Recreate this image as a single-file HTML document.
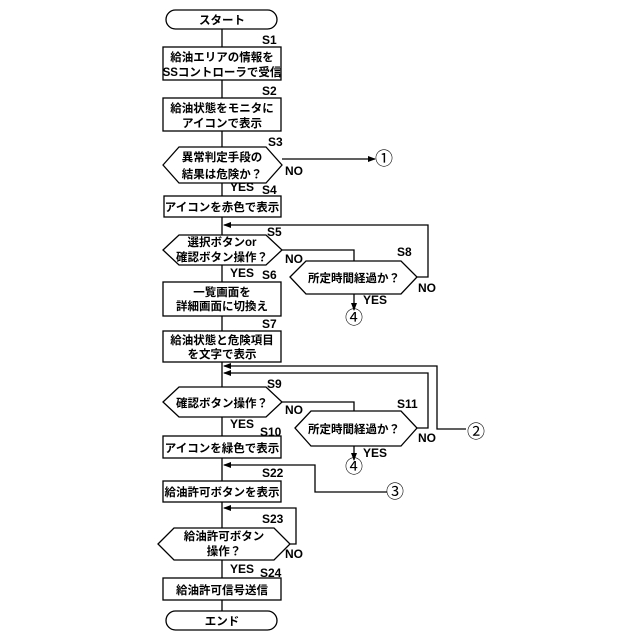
<!DOCTYPE html>
<html><head><meta charset="utf-8"><style>
html,body{margin:0;padding:0;background:#fff;width:640px;height:640px;overflow:hidden}
svg text{font-family:"Liberation Sans","Noto Sans CJK JP",sans-serif;font-weight:bold;fill:#000}
.t{font-size:11.5px;text-anchor:middle}
.l{font-size:12px}
.c{font-size:18px;text-anchor:middle;font-weight:normal}
</style></head><body>
<svg width="640" height="640" viewBox="0 0 640 640" xmlns="http://www.w3.org/2000/svg">
<defs><marker id="a" markerWidth="8" markerHeight="6" refX="7" refY="3" orient="auto" markerUnits="userSpaceOnUse"><path d="M0,0 L8,3 L0,6 z" fill="#000"/></marker></defs>
<g stroke="#000" stroke-width="1.3" fill="none">
<line x1="222" y1="29" x2="222" y2="611"/>
<rect x="166" y="10" width="111" height="19" rx="9.5" fill="#fff"/>
<rect x="163" y="47" width="118" height="33" fill="#fff"/>
<rect x="163" y="98" width="118" height="33" fill="#fff"/>
<polygon points="163,165 179,147 266,147 282,165 266,183 179,183" fill="#fff"/>
<rect x="164" y="196" width="117" height="21" fill="#fff"/>
<polygon points="163,250 179,235 266,235 282,250 266,265 179,265" fill="#fff"/>
<polygon points="290,277 306,261 401,261 417,277 401,294 306,294" fill="#fff"/>
<rect x="163" y="282" width="118" height="34" fill="#fff"/>
<rect x="163" y="331" width="118" height="31" fill="#fff"/>
<polygon points="163,402 179,387 266,387 282,402 266,417 179,417" fill="#fff"/>
<polygon points="295,428 311,411 401,411 417,428 401,446 311,446" fill="#fff"/>
<rect x="163" y="436" width="118" height="22" fill="#fff"/>
<rect x="163" y="481" width="118" height="21" fill="#fff"/>
<polygon points="158,544 174,528 274,528 290,544 274,560 174,560" fill="#fff"/>
<rect x="163" y="578" width="118" height="22" fill="#fff"/>
<rect x="166" y="611" width="111" height="19" rx="9.5" fill="#fff"/>
<line x1="282" y1="159" x2="375" y2="159" marker-end="url(#a)"/>
<polyline points="417,277 428,277 428,225 224,225" marker-end="url(#a)"/>
<polyline points="282,250 354,250 354,261"/>
<line x1="354" y1="294" x2="354" y2="310" marker-end="url(#a)"/>
<polyline points="466,429 437,429 437,366 224,366" marker-end="url(#a)"/>
<polyline points="417,428 428,428 428,373 224,373" marker-end="url(#a)"/>
<polyline points="282,402 354,402 354,411"/>
<line x1="354" y1="446" x2="354" y2="460" marker-end="url(#a)"/>
<polyline points="387,492 315,492 315,465 224,465" marker-end="url(#a)"/>
<polyline points="290,544 296,544 296,508 224,508" marker-end="url(#a)"/>
</g>
<text class="t" x="222" y="24">スタート</text>
<text class="l" x="262" y="44">S1</text>
<text class="t" x="222" y="61">給油エリアの情報を</text>
<text class="t" x="222" y="76">SSコントローラで受信</text>
<text class="l" x="262" y="95">S2</text>
<text class="t" x="222" y="112">給油状態をモニタに</text>
<text class="t" x="222" y="127">アイコンで表示</text>
<text class="l" x="268" y="146">S3</text>
<text class="t" x="222" y="161">異常判定手段の</text>
<text class="t" x="222" y="178">結果は危険か？</text>
<text class="l" x="285" y="175">NO</text>
<text class="c" x="384" y="165">①</text>
<text class="l" x="230" y="191">YES</text>
<text class="l" x="262" y="194">S4</text>
<text class="t" x="222" y="211">アイコンを赤色で表示</text>
<text class="l" x="267" y="236">S5</text>
<text class="t" x="222" y="246">選択ボタンor</text>
<text class="t" x="222" y="261">確認ボタン操作？</text>
<text class="l" x="285" y="263">NO</text>
<text class="l" x="397" y="256">S8</text>
<text class="t" x="354" y="282">所定時間経過か？</text>
<text class="l" x="418" y="292">NO</text>
<text class="l" x="363" y="304">YES</text>
<text class="c" x="354" y="324">④</text>
<text class="l" x="230" y="277">YES</text>
<text class="l" x="262" y="279">S6</text>
<text class="t" x="222" y="296">一覧画面を</text>
<text class="t" x="222" y="310">詳細画面に切換え</text>
<text class="l" x="262" y="328">S7</text>
<text class="t" x="222" y="344">給油状態と危険項目</text>
<text class="t" x="222" y="358">を文字で表示</text>
<text class="l" x="267" y="388">S9</text>
<text class="t" x="222" y="407">確認ボタン操作？</text>
<text class="l" x="285" y="414">NO</text>
<text class="l" x="397" y="408">S11</text>
<text class="t" x="354" y="433">所定時間経過か？</text>
<text class="l" x="418" y="442">NO</text>
<text class="c" x="476" y="438">②</text>
<text class="l" x="230" y="428">YES</text>
<text class="l" x="260" y="436">S10</text>
<text class="t" x="222" y="452">アイコンを緑色で表示</text>
<text class="l" x="363" y="457">YES</text>
<text class="c" x="354" y="473">④</text>
<text class="l" x="262" y="477">S22</text>
<text class="t" x="222" y="496">給油許可ボタンを表示</text>
<text class="c" x="395" y="498">③</text>
<text class="l" x="262" y="523">S23</text>
<text class="t" x="224" y="540">給油許可ボタン</text>
<text class="t" x="224" y="555">操作？</text>
<text class="l" x="285" y="558">NO</text>
<text class="l" x="230" y="573">YES</text>
<text class="l" x="260" y="577">S24</text>
<text class="t" x="222" y="594">給油許可信号送信</text>
<text class="t" x="222" y="625">エンド</text>
</svg>
</body></html>
